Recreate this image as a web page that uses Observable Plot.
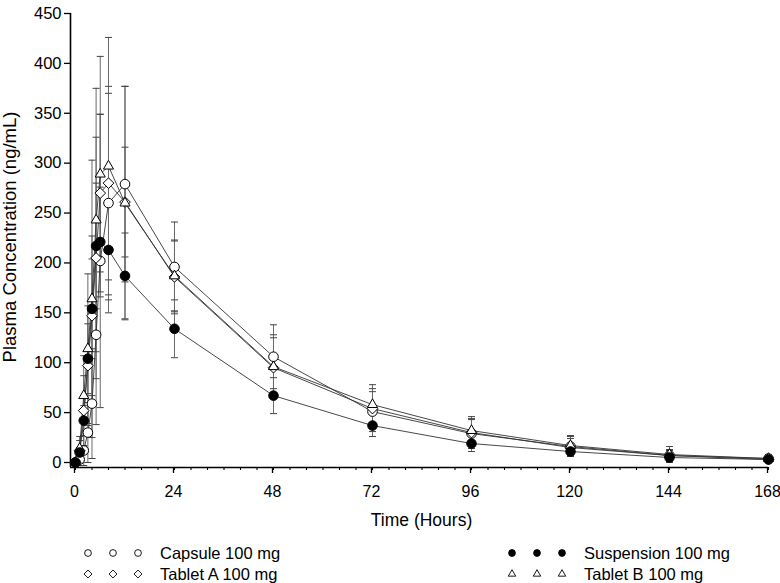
<!DOCTYPE html>
<html>
<head>
<meta charset="utf-8">
<script src="https://cdn.jsdelivr.net/npm/d3@7"></script>
<script src="https://cdn.jsdelivr.net/npm/@observablehq/plot@0.6"></script>
<style>
  html, body { margin: 0; padding: 0; background: #fff; }
  #wrap { position: relative; width: 780px; height: 583px; font-family: "Liberation Sans", Arial, sans-serif; }
  #legend { position: absolute; left: 0; top: 535px; }
</style>
</head>
<body>
<div id="wrap"></div>
<script>
// ---- data ----
const times = [0, 1, 2, 3, 4, 5, 6, 8, 12, 24, 48, 72, 96, 120, 144, 168];

const seriesNames = ["Capsule 100 mg", "Tablet A 100 mg", "Suspension 100 mg", "Tablet B 100 mg"];

const capsuleMean = [0, 3, 12, 30, 59, 128, 202, 260, 279, 196, 106, 51, 29, 16, 7, 4];
const capsuleSD   = [0, 4, 15, 30, 55, 90, 147, 110, 98, 45, 32, 20, 15, 10, 6, 4];

const tabletAMean = [0, 12, 52, 97, 147, 205, 270, 280, 261, 186, 95, 54, 30, 15, 7, 3];
const tabletASD   = [0, 10, 35, 60, 80, 121, 79, 97, 55, 37, 30, 20, 13, 9, 5, 3];

const suspensionMean = [0, 10, 42, 104, 154, 217, 221, 213, 187, 134, 67, 37, 19, 11, 5, 3];
const suspensionSD   = [0, 5, 15, 35, 50, 63, 55, 50, 43, 29, 18, 11, 8, 5, 3, 2];

const tabletBMean = [0, 14, 67, 114, 164, 243, 289, 297, 260, 187, 96, 58, 32, 17, 8, 4];
const tabletBSD   = [0, 12, 40, 75, 139, 132, 118, 129, 117, 35, 32, 20, 14, 10, 8, 4];

const xMajorTicks = [0, 24, 48, 72, 96, 120, 144, 168];
const yTicks = [0, 50, 100, 150, 200, 250, 300, 350, 400, 450];

// ---- build table ----
const styles = {
  "Capsule 100 mg":    {symbol: "circle",    fill: "white", stroke: "black"},
  "Tablet A 100 mg":   {symbol: "diamond2",  fill: "white", stroke: "black"},
  "Suspension 100 mg": {symbol: "circle",    fill: "black", stroke: "black"},
  "Tablet B 100 mg":   {symbol: "triangle2", fill: "white", stroke: "black"}
};
const means = [capsuleMean, tabletAMean, suspensionMean, tabletBMean];
const sds = [capsuleSD, tabletASD, suspensionSD, tabletBSD];
const rows = [];
seriesNames.forEach((name, i) => {
  times.forEach((t, j) => rows.push({series: name, t, mean: means[i][j], sd: sds[i][j]}));
});

const xDomain = [-1.212, 168.97];
const yDomain = [-5.01, 453];

// horizontal cap symbol for error bars
const capSymbol = {
  draw(context, size) {
    const w = Math.sqrt(size / Math.PI);
    context.moveTo(-w, 0);
    context.lineTo(w, 0);
  }
};

const errRows = rows.filter(d => d.sd > 0);
const capRows = errRows.flatMap(d => [{t: d.t, v: d.mean - d.sd}, {t: d.t, v: d.mean + d.sd}]);

const markFor = name => Plot.dot(rows.filter(d => d.series === name), {
  x: "t", y: "mean", r: 4.8,
  symbol: () => styles[name].symbol,
  fill: styles[name].fill, stroke: styles[name].stroke, strokeWidth: 1
});

const chart = Plot.plot({
  width: 780,
  height: 535,
  marginLeft: 70,
  marginRight: 8,
  marginTop: 10,
  marginBottom: 68,
  style: {fontFamily: "'Liberation Sans', Arial, sans-serif", fontSize: "16px", color: "black", background: "white"},
  x: {domain: xDomain},
  y: {domain: yDomain},
  symbol: {type: "identity"},
  marks: [
    // axes lines
    Plot.ruleX([xDomain[0]], {y1: yDomain[0], y2: 450, stroke: "black", strokeWidth: 1.6}),
    Plot.ruleY([yDomain[0]], {x1: xDomain[0], x2: 168, stroke: "black", strokeWidth: 1.6}),
    Plot.axisY({ticks: yTicks, tickSize: 6, tickPadding: 3, label: null, fontSize: 16.5, strokeWidth: 1.3}),
    Plot.axisX({ticks: xMajorTicks, tickSize: 6, tickPadding: 12, label: null, fontSize: 16, dx: -1, strokeWidth: 1.3}),
    Plot.axisX({ticks: d3.range(0, 169, 4), tickSize: 3, tickFormat: () => "", label: null, strokeWidth: 1.1}),
    // titles
    Plot.text(["Time (Hours)"], {frameAnchor: "bottom", dy: 53, lineAnchor: "middle", textAnchor: "middle", fontSize: 17.5, fill: "black"}),
    Plot.text(["Plasma Concentration (ng/mL)"], {frameAnchor: "left", dx: -60, dy: -2, rotate: -90, lineAnchor: "middle", textAnchor: "middle", fontSize: 18.5, fill: "black"}),
    // error bars
    Plot.ruleX(errRows, {x: "t", y1: d => d.mean - d.sd, y2: d => d.mean + d.sd, stroke: "#6a6a6a", strokeWidth: 1}),
    Plot.dot(capRows, {x: "t", y: "v", symbol: () => capSymbol, r: 3.5, stroke: "#444", strokeWidth: 1, fill: "none"}),
    // lines
    Plot.line(rows, {x: "t", y: "mean", z: "series", stroke: "#333", strokeWidth: 0.9}),
    // markers
    markFor("Capsule 100 mg"),
    markFor("Tablet A 100 mg"),
    markFor("Tablet B 100 mg"),
    markFor("Suspension 100 mg")
  ]
});

const wrap = document.getElementById("wrap");
wrap.appendChild(chart);

// ---- legend ----
const legendItems = [
  {name: "Capsule 100 mg", col: 0, row: 0},
  {name: "Tablet A 100 mg", col: 0, row: 1},
  {name: "Suspension 100 mg", col: 1, row: 0},
  {name: "Tablet B 100 mg", col: 1, row: 1}
];
const legendSymbols = {circle: d3.symbolCircle, diamond2: d3.symbolDiamond2, triangle2: d3.symbolTriangle2};
const colX = [88, 512];
const rowY = [18, 39];
const leg = d3.select(wrap).append("svg")
  .attr("id", "legend").attr("width", 780).attr("height", 48)
  .style("font-family", "'Liberation Sans', Arial, sans-serif");
legendItems.forEach(it => {
  const st = styles[it.name];
  const sym = d3.symbol(legendSymbols[st.symbol], st.symbol === "circle" ? 36 : 40);
  for (let k = 0; k < 3; k++) {
    leg.append("path")
      .attr("d", sym())
      .attr("transform", `translate(${colX[it.col] + k * 25},${rowY[it.row]})`)
      .attr("fill", st.fill).attr("stroke", "black").attr("stroke-width", 0.9);
  }
  leg.append("text")
    .attr("x", colX[it.col] + 72).attr("y", rowY[it.row])
    .attr("dy", "0.35em").attr("font-size", 16.5).attr("fill", "black")
    .text(it.name);
});
</script>
</body>
</html>
